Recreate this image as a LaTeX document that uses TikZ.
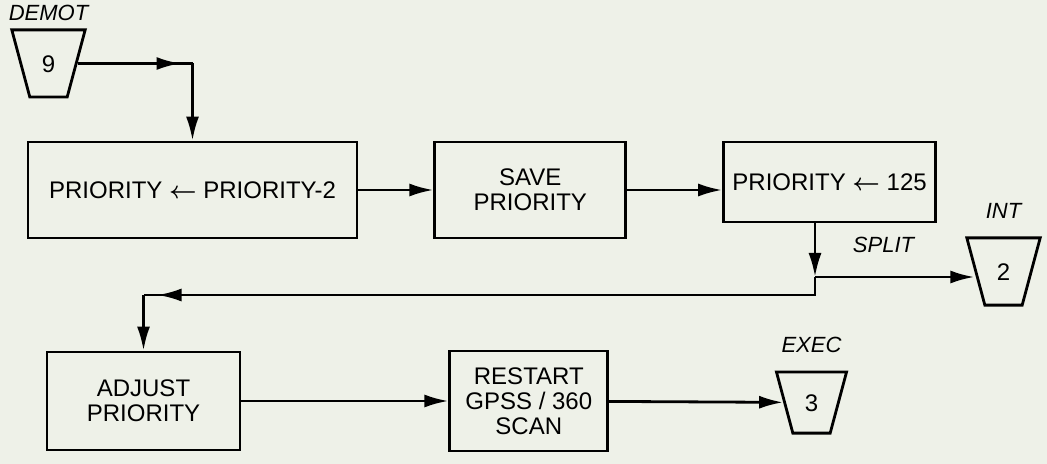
\documentclass[tikz,border=0pt]{standalone}
\usepackage{amsmath}
\usepackage{fontspec}
\setmainfont{Liberation Sans}
\setsansfont{Liberation Sans}
\usetikzlibrary{positioning,shapes.geometric,arrows.meta}
\definecolor{paper}{RGB}{238,241,232}

\begin{document}
\begin{tikzpicture}[x=0.5pt,y=-0.5pt,>={Latex[length=12pt,width=6.5pt]},line width=1.4pt,
  block/.style={draw,rectangle,inner sep=2pt,align=center,font=\sffamily\fontsize{12}{12.5}\selectfont},
  term/.style={draw,trapezium,shape border rotate=180,trapezium angle=75,inner xsep=6pt,inner ysep=12.5pt,text height=8.6pt,text depth=0pt,font=\sffamily\fontsize{12}{14}\selectfont},
  tag/.style={font=\sffamily\itshape\fontsize{11}{13}\selectfont}]
  \fill[paper] (0,0) rectangle (1047,464);
  \useasboundingbox (0,0) rectangle (1047,464);

  % top row
  \node[term, label={[tag,label distance=0pt]above:DEMOT}] (demot) at (48.5,63.5) {9};
  \node[block, minimum width=164.5pt, minimum height=48pt] (prio) at (192.5,190) {PRIORITY $\boldsymbol{\leftarrow}$ PRIORITY-2};
  \node[block, minimum width=95.5pt, minimum height=48pt] (save) [right=37.5pt of prio] {SAVE\\PRIORITY};
  \node[block, minimum width=106pt, minimum height=40pt] (reset) [right=47.5pt of save, yshift=4pt] {PRIORITY $\boldsymbol{\leftarrow}$ 125};
  \node[term, label={[tag,label distance=5pt]above:INT}] (int) at (1003.5,271.5) {2};

  % bottom row
  \node[block, minimum width=96.5pt, minimum height=49pt] (adjust) at (143.5,401) {ADJUST\\PRIORITY};
  \node[block, minimum width=79pt, minimum height=50pt] (restart) [right=103.5pt of adjust] {RESTART\\GPSS / 360\\SCAN};
  \node[term, inner ysep=11pt, label={[tag,label distance=5pt]above:EXEC}] (exec) at (811.5,402.5) {3};

  \coordinate (c1) at (prio.north |- demot.east);
  \coordinate (sp) at (815,277);
  \coordinate (jn) at (815,295);
  \coordinate (c2) at (adjust.north |- jn);

  \draw (demot.east) -- (c1);
  \draw[->,shorten >=6pt] (demot.east) -- (c1);
  \draw[->] (c1) -- (prio.north);
  \draw[->] (prio) -- (save);
  \draw[->] (save.east) -- (save.east -| reset.west);
  \draw[->] (reset.south -| sp) -- (sp);
  \draw[->] (sp) -- node[tag, pos=0.43, above=8pt] {SPLIT} (sp -| int.west);
  \draw[->,shorten >=7pt] (sp) -- (jn) -- (c2);
  \draw (jn) -- (c2);
  \draw[->] (c2) -- (adjust.north);
  \draw[->] (adjust) -- (restart);
  \draw[->] (restart) -- (exec);
\end{tikzpicture}
\end{document}
